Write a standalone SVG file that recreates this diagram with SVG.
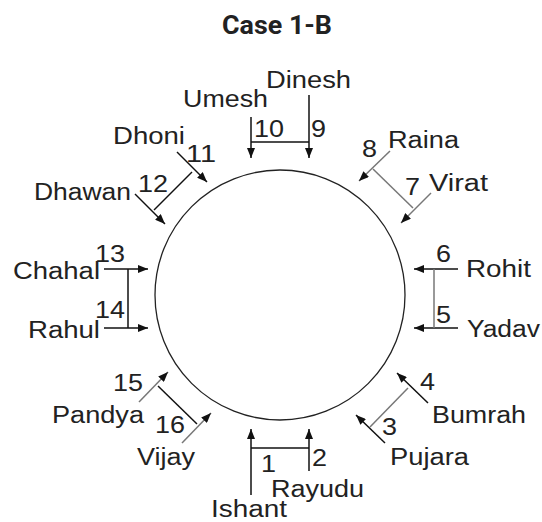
<svg xmlns="http://www.w3.org/2000/svg" width="542" height="522" viewBox="0 0 542 522">
<style>
.lbl{font-family:"Liberation Sans",Arial,sans-serif;font-size:23.5px;fill:#222}
.ttl{font-family:Roboto,"Liberation Sans",sans-serif;font-size:25px;font-weight:bold;fill:#222}
.ln{stroke:#111;stroke-width:1.5;fill:none}
.gr{stroke:#777;stroke-width:1.5;fill:none}
.ar{marker-end:url(#ah)}
</style>
<defs>
<marker id="ah" markerUnits="userSpaceOnUse" markerWidth="10" markerHeight="8" refX="10" refY="4" orient="auto">
<path d="M0,0 L10,4 L0,8 z" fill="#111"/>
</marker>
</defs>
<rect width="542" height="522" fill="#fff"/>
<text class="ttl" x="222" y="34" textLength="110" lengthAdjust="spacingAndGlyphs">Case 1-B</text>
<g id="table"><circle cx="280" cy="295" r="125" fill="none" stroke="#222" stroke-width="1.3"/></g>
<g id="connectors">
<line class="ln ar" x1="309" y1="95" x2="309" y2="158"/>
<line class="ln ar" x1="251" y1="117" x2="251" y2="158"/>
<line class="ln" x1="251" y1="142" x2="309" y2="142"/>
<line class="gr ar" x1="390" y1="151" x2="359" y2="181"/>
<line class="gr ar" x1="431" y1="193" x2="401" y2="223"/>
<line class="gr" x1="373" y1="169" x2="413" y2="208"/>
<line class="ln ar" x1="458" y1="269" x2="414" y2="269"/>
<line class="ln ar" x1="458" y1="328" x2="414" y2="328"/>
<line class="gr" x1="434" y1="269" x2="434" y2="328"/>
<line class="ln ar" x1="428" y1="403" x2="397" y2="373"/>
<line class="ln ar" x1="385" y1="443" x2="356" y2="415"/>
<line class="gr" x1="370" y1="427" x2="408" y2="388"/>
<line class="ln ar" x1="309" y1="471" x2="309" y2="429"/>
<line class="ln ar" x1="251" y1="495" x2="251" y2="429"/>
<line class="ln" x1="251" y1="448" x2="309" y2="448"/>
<line class="gr ar" x1="182" y1="443" x2="211" y2="413"/>
<line class="gr ar" x1="139" y1="402" x2="168" y2="372"/>
<line class="ln" x1="158" y1="386" x2="197" y2="424"/>
<line class="ln ar" x1="104" y1="269" x2="148" y2="269"/>
<line class="ln ar" x1="104" y1="328" x2="148" y2="328"/>
<line class="ln" x1="128" y1="269" x2="128" y2="328"/>
<line class="ln ar" x1="135" y1="194" x2="165" y2="224"/>
<line class="ln ar" x1="177" y1="152" x2="207" y2="182"/>
<line class="ln" x1="192" y1="172" x2="154" y2="210"/>
</g>
<g id="p1"><text class="lbl" x="211" y="517" textLength="76" lengthAdjust="spacingAndGlyphs">Ishant</text><text class="lbl" x="261" y="472" textLength="15" lengthAdjust="spacingAndGlyphs">1</text></g>
<g id="p2"><text class="lbl" x="271" y="497" textLength="93" lengthAdjust="spacingAndGlyphs">Rayudu</text><text class="lbl" x="312" y="466" textLength="15" lengthAdjust="spacingAndGlyphs">2</text></g>
<g id="p3"><text class="lbl" x="390" y="465" textLength="79" lengthAdjust="spacingAndGlyphs">Pujara</text><text class="lbl" x="382" y="435" textLength="15" lengthAdjust="spacingAndGlyphs">3</text></g>
<g id="p4"><text class="lbl" x="432" y="423" textLength="94" lengthAdjust="spacingAndGlyphs">Bumrah</text><text class="lbl" x="420" y="390" textLength="15" lengthAdjust="spacingAndGlyphs">4</text></g>
<g id="p5"><text class="lbl" x="467" y="337" textLength="73" lengthAdjust="spacingAndGlyphs">Yadav</text><text class="lbl" x="436" y="323" textLength="15" lengthAdjust="spacingAndGlyphs">5</text></g>
<g id="p6"><text class="lbl" x="466" y="277" textLength="65" lengthAdjust="spacingAndGlyphs">Rohit</text><text class="lbl" x="436" y="262" textLength="15" lengthAdjust="spacingAndGlyphs">6</text></g>
<g id="p7"><text class="lbl" x="429" y="191" textLength="59" lengthAdjust="spacingAndGlyphs">Virat</text><text class="lbl" x="405" y="195" textLength="15" lengthAdjust="spacingAndGlyphs">7</text></g>
<g id="p8"><text class="lbl" x="388" y="148" textLength="71" lengthAdjust="spacingAndGlyphs">Raina</text><text class="lbl" x="362" y="157" textLength="15" lengthAdjust="spacingAndGlyphs">8</text></g>
<g id="p9"><text class="lbl" x="266" y="88" textLength="85" lengthAdjust="spacingAndGlyphs">Dinesh</text><text class="lbl" x="311" y="137" textLength="15" lengthAdjust="spacingAndGlyphs">9</text></g>
<g id="p10"><text class="lbl" x="183" y="107" textLength="85" lengthAdjust="spacingAndGlyphs">Umesh</text><text class="lbl" x="254" y="137" textLength="30" lengthAdjust="spacingAndGlyphs">10</text></g>
<g id="p11"><text class="lbl" x="113" y="144" textLength="72" lengthAdjust="spacingAndGlyphs">Dhoni</text><text class="lbl" x="186" y="162" textLength="30" lengthAdjust="spacingAndGlyphs">11</text></g>
<g id="p12"><text class="lbl" x="34" y="200" textLength="97" lengthAdjust="spacingAndGlyphs">Dhawan</text><text class="lbl" x="138" y="192" textLength="30" lengthAdjust="spacingAndGlyphs">12</text></g>
<g id="p13"><text class="lbl" x="13" y="279" textLength="87" lengthAdjust="spacingAndGlyphs">Chahal</text><text class="lbl" x="95" y="262" textLength="30" lengthAdjust="spacingAndGlyphs">13</text></g>
<g id="p14"><text class="lbl" x="28" y="338" textLength="72" lengthAdjust="spacingAndGlyphs">Rahul</text><text class="lbl" x="95" y="318" textLength="30" lengthAdjust="spacingAndGlyphs">14</text></g>
<g id="p15"><text class="lbl" x="52" y="423" textLength="92" lengthAdjust="spacingAndGlyphs">Pandya</text><text class="lbl" x="113" y="391" textLength="30" lengthAdjust="spacingAndGlyphs">15</text></g>
<g id="p16"><text class="lbl" x="137" y="465" textLength="58" lengthAdjust="spacingAndGlyphs">Vijay</text><text class="lbl" x="155" y="433" textLength="30" lengthAdjust="spacingAndGlyphs">16</text></g>
</svg>
